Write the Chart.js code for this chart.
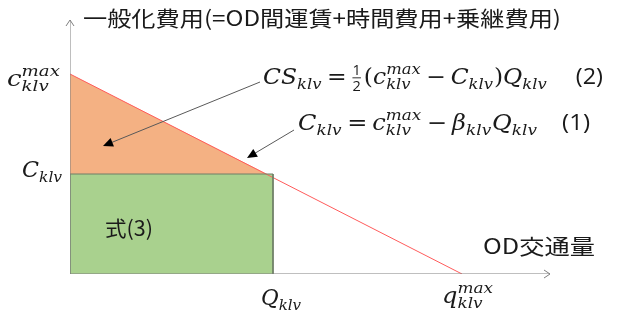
<!DOCTYPE html>
<html><head><meta charset="utf-8">
<script src="https://cdn.jsdelivr.net/npm/chart.js@4.4.1/dist/chart.umd.min.js"></script>
<style>html,body{margin:0;padding:0;background:#fff;}canvas{display:block;}</style>
</head><body>
<canvas id="c" width="619" height="322"></canvas>
<script>
// ---- data (diagram units) ----
const axisMaxX = 480;          // length of horizontal axis
const axisMaxY = 127;          // length of vertical axis
const demandX = [0, 392];      // c_max at Q=0, zero at q_max
const demandY = [100, 0];
const surplusX = [0, 197];     // consumer-surplus triangle upper edge
const surplusY = [100, 50];
const costX = [0, 0, 203, 203];  // generalized-cost rectangle
const costY = [0, 50, 50, 0];
const arrowFromX = [190, 224];
const arrowFromY = [96, 72];
const arrowToX = [33, 177];
const arrowToY = [64, 58];

const pts = (xs, ys) => xs.map((x, i) => ({x, y: ys[i]}));

const MATH = "'DejaVu Serif', 'Liberation Serif', serif";
const SANS = "'Open Sans', 'Liberation Sans', sans-serif";
const CJK = "'Noto Sans CJK JP', sans-serif";

function layout(ctx, tokens, size, draw) {
  let cx = 0;
  for (const tk of tokens) {
    if (tk.gap) { cx += tk.gap * size; continue; }
    if (tk.t !== undefined) {
      const fam = tk.f === 'up' ? MATH : tk.f === 'sans' ? SANS : tk.f === 'cjk' ? CJK : MATH;
      const st = tk.f === 'it' || tk.f === undefined ? 'italic ' : '';
      ctx.font = st + size + 'px ' + fam;
      if (draw) ctx.fillText(tk.t, cx, 0);
      cx += ctx.measureText(tk.t).width;
      continue;
    }
    if (tk.sub !== undefined || tk.sup !== undefined) {
      const s = size * 0.7;
      ctx.font = 'italic ' + s + 'px ' + MATH;
      let w = 0;
      if (tk.sup) { if (draw) ctx.fillText(tk.sup, cx, -size * 0.45); w = Math.max(w, ctx.measureText(tk.sup).width); }
      if (tk.sub) { if (draw) ctx.fillText(tk.sub, cx, size * 0.22); w = Math.max(w, ctx.measureText(tk.sub).width); }
      cx += w + size * 0.04;
      continue;
    }
    if (tk.frac) {
      const s = size * 0.62;
      ctx.font = s + 'px ' + SANS;
      const w = Math.max(ctx.measureText(tk.frac[0]).width, ctx.measureText(tk.frac[1]).width) + size * 0.1;
      if (draw) {
        ctx.textAlign = 'center';
        ctx.fillText(tk.frac[0], cx + w / 2, -size * 0.4);
        ctx.fillText(tk.frac[1], cx + w / 2, size * 0.34);
        ctx.textAlign = 'left';
        ctx.fillRect(cx + 1, -size * 0.3, w - 2, Math.max(0.8, size * 0.04));
      }
      cx += w + size * 0.08;
    }
  }
  return cx;
}
function drawRun(ctx, x, baseline, tokens, size, width) {
  ctx.save();
  ctx.textBaseline = 'alphabetic';
  ctx.textAlign = 'left';
  const w = layout(ctx, tokens, size, false);
  const sx = width ? width / w : 1;
  ctx.translate(x, baseline);
  ctx.scale(sx, 1);
  layout(ctx, tokens, size, true);
  ctx.restore();
}

const annot = {
  id: 'annot',
  afterDraw(chart) {
    const ctx = chart.ctx, xs = chart.scales.x, ys = chart.scales.y;
    const px = v => xs.getPixelForValue(v), py = v => ys.getPixelForValue(v);
    ctx.save();
    // axis arrowheads (open)
    ctx.strokeStyle = '#7f7f7f'; ctx.lineWidth = 1;
    const ox = px(0), oy = py(0), tx = px(axisMaxX), ty = py(axisMaxY);
    ctx.beginPath();
    ctx.moveTo(ox - 4, ty + 6); ctx.lineTo(ox, ty); ctx.lineTo(ox + 4, ty + 6);
    ctx.moveTo(tx - 6, oy - 4); ctx.lineTo(tx, oy); ctx.lineTo(tx - 6, oy + 4);
    ctx.stroke();
    // callout arrows
    for (let i = 0; i < arrowFromX.length; i++) {
      const x1 = px(arrowFromX[i]), y1 = py(arrowFromY[i]), x2 = px(arrowToX[i]), y2 = py(arrowToY[i]);
      ctx.strokeStyle = '#595959'; ctx.fillStyle = '#000';
      const a = Math.atan2(y2 - y1, x2 - x1);
      ctx.beginPath(); ctx.moveTo(x1, y1); ctx.lineTo(x2 - 8 * Math.cos(a), y2 - 8 * Math.sin(a)); ctx.stroke();
      ctx.beginPath();
      ctx.moveTo(x2, y2);
      ctx.lineTo(x2 - 10 * Math.cos(a) + 4.5 * Math.sin(a), y2 - 10 * Math.sin(a) - 4.5 * Math.cos(a));
      ctx.lineTo(x2 - 10 * Math.cos(a) - 4.5 * Math.sin(a), y2 - 10 * Math.sin(a) + 4.5 * Math.cos(a));
      ctx.closePath(); ctx.fill();
    }
    // texts
    ctx.fillStyle = '#1a1a1a';
    drawRun(ctx, 83, 26, [{t: '一般化費用(=OD間運賃+時間費用+乗継費用)', f: 'cjk'}], 21, 478);
    drawRun(ctx, 483, 254, [{t: 'OD交通量', f: 'cjk'}], 21, 112);
    drawRun(ctx, 105, 236, [{t: '式(3)', f: 'cjk'}], 21, 48);
    drawRun(ctx, 7, 86, [{t: 'c'}, {sup: 'max', sub: 'klv'}], 22, 54);
    drawRun(ctx, 22, 177, [{t: 'C'}, {sub: 'klv'}], 22, 41);
    drawRun(ctx, 261, 305, [{t: 'Q'}, {sub: 'klv'}], 22, 41);
    drawRun(ctx, 442, 303, [{t: 'q'}, {sup: 'max', sub: 'klv'}], 22, 52);
    drawRun(ctx, 263, 84, [
      {t: 'CS'}, {sub: 'klv'}, {gap: 0.2}, {t: '=', f: 'up'}, {gap: 0.2}, {frac: ['1', '2']},
      {t: '(', f: 'up'}, {t: 'c'}, {sup: 'max', sub: 'klv'}, {gap: 0.2}, {t: '−', f: 'up'}, {gap: 0.2},
      {t: 'C'}, {sub: 'klv'}, {t: ')', f: 'up'}, {t: 'Q'}, {sub: 'klv'}, {gap: 1.2}, {t: '(2)', f: 'sans'}
    ], 22, 340);
    drawRun(ctx, 298, 130, [
      {t: 'C'}, {sub: 'klv'}, {gap: 0.2}, {t: '=', f: 'up'}, {gap: 0.2}, {t: 'c'}, {sup: 'max', sub: 'klv'},
      {gap: 0.2}, {t: '−', f: 'up'}, {gap: 0.2}, {t: 'β'}, {sub: 'klv'}, {t: 'Q'}, {sub: 'klv'},
      {gap: 1.0}, {t: '(1)', f: 'sans'}
    ], 22, 292);
    ctx.restore();
  }
};

new Chart(document.getElementById('c'), {
  type: 'scatter',
  data: {
    datasets: [
      {data: [{x: 0, y: 0}, {x: 0, y: axisMaxY}], showLine: true, borderColor: '#7f7f7f', borderWidth: 1, pointRadius: 0, fill: false},
      {data: [{x: 0, y: 0}, {x: axisMaxX, y: 0}], showLine: true, borderColor: '#7f7f7f', borderWidth: 1, pointRadius: 0, fill: false},
      {data: pts(costX, costY), showLine: true, borderColor: '#6f7f66', borderWidth: 1, pointRadius: 0, fill: false},
      {data: pts(demandX, demandY), showLine: true, borderColor: '#ff5b5b', borderWidth: 1, pointRadius: 0, fill: false},
      {data: pts(surplusX, surplusY), showLine: true, borderColor: 'rgba(0,0,0,0)', backgroundColor: '#F4B183', pointRadius: 0, fill: {value: 50}},
      {data: [{x: costX[1], y: costY[1]}, {x: costX[2], y: costY[2]}], showLine: true, borderColor: 'rgba(0,0,0,0)', backgroundColor: '#A9D18E', pointRadius: 0, fill: 'origin'}
    ]
  },
  options: {
    responsive: false,
    animation: false,
    layout: {padding: {left: 70, right: 69, top: 20, bottom: 48}},
    scales: {
      x: {type: 'linear', min: 0, max: axisMaxX, display: false},
      y: {type: 'linear', min: 0, max: axisMaxY, display: false}
    },
    plugins: {legend: {display: false}, tooltip: {enabled: false}}
  },
  plugins: [annot]
});
</script>
</body></html>
